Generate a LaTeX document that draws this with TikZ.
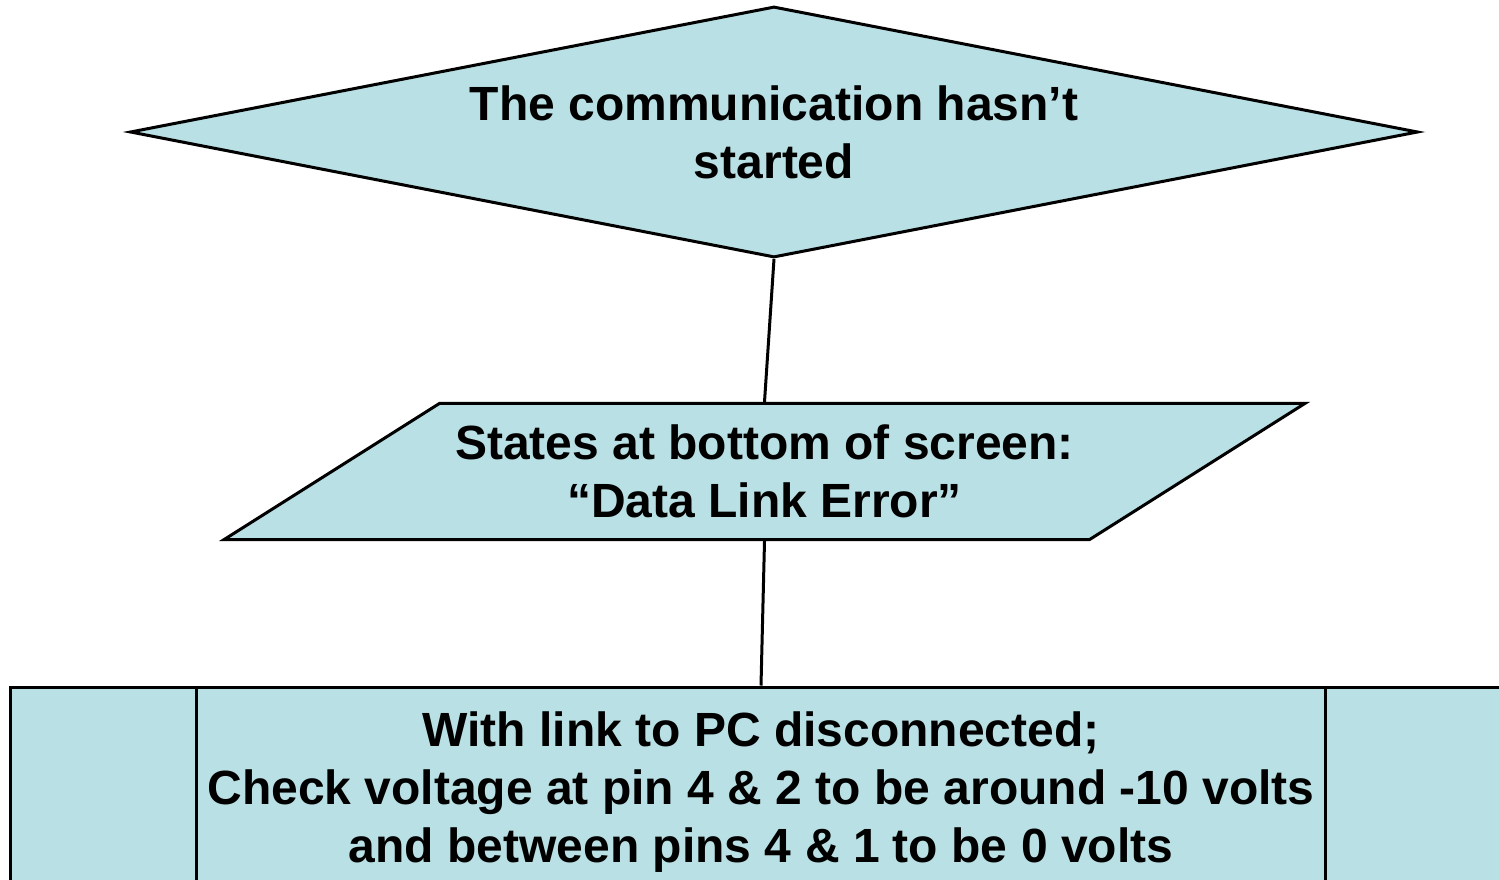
\documentclass[tikz,border=0pt]{standalone}
\usepackage{fontspec}
\setmainfont{Liberation Sans}
\usetikzlibrary{shapes.geometric}
\definecolor{boxfill}{RGB}{185,224,228}
\begin{document}
\begin{tikzpicture}[x=1pt,y=-1pt,
    every node/.style={font=\fontsize{48}{58}\selectfont\bfseries, align=center, inner sep=0pt},
    flowshape/.style={draw=black, line width=3pt, fill=boxfill},
    link/.style={draw=black, line width=3pt}]
        \useasboundingbox (0,0) rectangle (1499,880);
        \clip (0,0) rectangle (1499,880);
        \node[flowshape, shape=diamond, aspect=5.13, minimum width=1288pt, minimum height=251pt] (cond) at (774,132) {The communication hasn’t\\started};
        \node[flowshape, shape=trapezium, trapezium left angle=32.3, trapezium right angle=147.7,
            trapezium stretches body, inner ysep=21.5pt, minimum width=1081pt] (io) at (764.5,471.5) {States at bottom of screen:\\“Data Link Error”};
        \node[flowshape, rectangle, minimum width=1502pt, minimum height=200pt, text depth=0pt] (check) at (761,787) {With link to PC disconnected;\\Check voltage at pin 4 \& 2 to be around -10 volts\\and between pins 4 \& 1 to be 0 volts};
        \draw[link] ([xshift=188pt]check.north west) -- ([xshift=188pt]check.south west);
        \draw[link] ([xshift=-188pt]check.north east) -- ([xshift=-188pt]check.south east);
        \draw[link] (cond.south) -- (io.center |- io.north);
        \draw[link] (io.center |- io.south) -- (check.north);
    \end{tikzpicture}
\end{document}
